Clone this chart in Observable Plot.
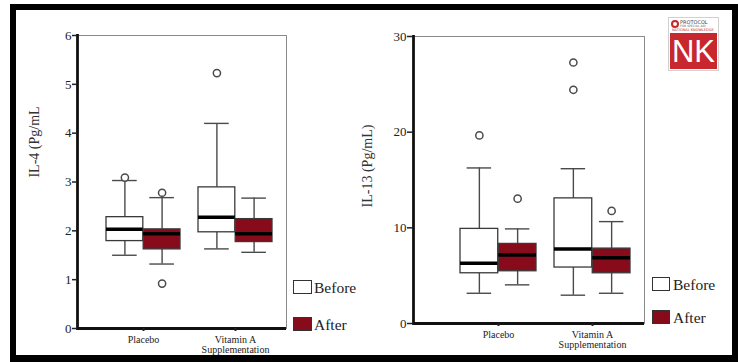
<!DOCTYPE html>
<html><head><meta charset="utf-8">
<script src="https://cdn.jsdelivr.net/npm/d3@7"></script>
<script src="https://cdn.jsdelivr.net/npm/@observablehq/plot@0.6"></script>
<style>
body{margin:0;background:#fff;}
#wrap{position:relative;width:740px;height:362px;overflow:hidden;background:#fff;font-family:"Liberation Serif","DejaVu Serif",serif;}
.abs{position:absolute;}
#border{position:absolute;left:10px;top:4px;width:728px;height:358px;box-sizing:border-box;border:6px solid #000;border-bottom-width:7px;z-index:10;pointer-events:none;}
.ylab{position:absolute;transform:translate(-50%,-50%) rotate(-90deg);white-space:nowrap;font-size:14px;color:#333;}
.leg-box{position:absolute;box-sizing:border-box;border:1.5px solid #333;}
.leg-text{position:absolute;font-size:15.5px;color:#222;line-height:1;}
svg{background:transparent !important;}
</style></head>
<body><div id="wrap">
<div id="left" class="abs" style="left:0;top:0"></div>
<div id="right" class="abs" style="left:340px;top:0"></div>
<div class="ylab" style="left:35px;top:142px">IL-4 (Pg/mL</div>
<div class="ylab" style="left:368px;top:166px">IL-13 (Pg/mL)</div>
<div class="leg-box" style="left:293px;top:280px;width:19px;height:14px;background:#fff"></div>
<div class="leg-text" style="left:314px;top:280px">Before</div>
<div class="leg-box" style="left:293px;top:317px;width:19px;height:14px;background:#870b1b"></div>
<div class="leg-text" style="left:314px;top:317px">After</div>
<div class="leg-box" style="left:652px;top:277px;width:18px;height:14px;background:#fff"></div>
<div class="leg-text" style="left:673px;top:277px">Before</div>
<div class="leg-box" style="left:652px;top:310px;width:18px;height:14px;background:#870b1b"></div>
<div class="leg-text" style="left:673px;top:310px">After</div>
<div class="abs" style="left:668px;top:17px;width:51px;height:54px;border:1px solid #d0d0d0;background:#fff;box-sizing:border-box;">
  <div class="abs" style="left:2px;top:2px;width:8px;height:8px;border:2px solid #c62828;border-radius:50%;box-sizing:border-box"></div>
  <div class="abs" style="left:11px;top:1px;font:5px 'DejaVu Sans';color:#444;white-space:nowrap">PROTOCOL</div>
  <div class="abs" style="left:11px;top:6px;font:3px 'DejaVu Sans';color:#666;white-space:nowrap">FOR SPECIAL AID</div>
  <div class="abs" style="left:3px;top:10px;font:3.5px 'DejaVu Sans';color:#c62828;white-space:nowrap">NATIONAL KNOWLEDGE</div>
  <div class="abs" style="left:1px;right:1px;top:15px;bottom:1px;background:#c8282d;color:#fff;font:31px 'Liberation Sans',Arial,sans-serif;text-align:center;line-height:37px">NK</div>
</div>
<div id="border"></div>
</div>
<script>
// Categories
const groups = ["Placebo", "Vitamin A Supplementation"];
const phases = ["Before", "After"];
// Box order: Placebo-Before, Placebo-After, VitA-Before, VitA-After
// IL-4 (Pg/mL)
const il4Low    = [1.50, 1.32, 1.63, 1.56];
const il4Q1     = [1.79, 1.62, 1.97, 1.77];
const il4Median = [2.03, 1.94, 2.28, 1.94];
const il4Q3     = [2.28, 2.03, 2.89, 2.24];
const il4High   = [3.03, 2.68, 4.20, 2.67];
const il4Outliers = [
  {group: "Placebo", phase: "Before", value: 3.09},
  {group: "Placebo", phase: "After", value: 2.78},
  {group: "Placebo", phase: "After", value: 0.92},
  {group: "Vitamin A Supplementation", phase: "Before", value: 5.23}
];
const il4Ticks = [0, 1, 2, 3, 4, 5, 6];
// IL-13 (Pg/mL)
const il13Low    = [3.16, 4.04, 2.96, 3.16];
const il13Q1     = [5.25, 5.46, 5.85, 5.25];
const il13Median = [6.30, 7.17, 7.80, 6.86];
const il13Q3     = [9.89, 8.32, 13.08, 7.83];
const il13High   = [16.26, 9.89, 16.18, 10.65];
const il13Outliers = [
  {group: "Placebo", phase: "Before", value: 19.66},
  {group: "Placebo", phase: "After", value: 13.05},
  {group: "Vitamin A Supplementation", phase: "Before", value: 27.28},
  {group: "Vitamin A Supplementation", phase: "Before", value: 24.43},
  {group: "Vitamin A Supplementation", phase: "After", value: 11.77}
];
const il13Ticks = [0, 10, 20, 30];
const groupLabels = {"Placebo": "Placebo", "Vitamin A Supplementation": "Vitamin A\nSupplementation"};

const fills = {Before: "#ffffff", After: "#870b1b"};

function panel(o) {
  const rows = [];
  groups.forEach((g, i) => phases.forEach((p, j) => {
    const k = i * 2 + j;
    rows.push({group: g, phase: p, low: o.low[k], q1: o.q1[k], median: o.median[k], q3: o.q3[k], high: o.high[k]});
  }));
  const [r0, r1] = o.xRange;
  const pi = o.paddingInner;
  const step = (r1 - r0) / (2 - pi);
  const bw = step * (1 - pi);
  const cap = 12.5;
  const marks = [Plot.frame({stroke: "#8a8a8a", strokeWidth: 1})];
  for (const p of phases) {
    const data = rows.filter(d => d.phase === p);
    const outs = o.outliers.filter(d => d.phase === p);
    const before = p === "Before";
    const dx = before ? -bw / 4 : bw / 4;
    const half = before ? {insetLeft: 0, insetRight: bw / 2} : {insetLeft: bw / 2, insetRight: 0};
    const capI = before ? {insetLeft: bw / 4 - cap, insetRight: 3 * bw / 4 - cap} : {insetLeft: 3 * bw / 4 - cap, insetRight: bw / 4 - cap};
    marks.push(
      Plot.ruleX(data, {x: "group", y1: "q3", y2: "high", dx, stroke: "#4a4a4a", strokeWidth: 1.4}),
      Plot.ruleX(data, {x: "group", y1: "low", y2: "q1", dx, stroke: "#4a4a4a", strokeWidth: 1.4}),
      Plot.tickY(data, {x: "group", y: "high", ...capI, stroke: "#4a4a4a", strokeWidth: 1.4}),
      Plot.tickY(data, {x: "group", y: "low", ...capI, stroke: "#4a4a4a", strokeWidth: 1.4}),
      Plot.barY(data, {x: "group", y1: "q1", y2: "q3", ...half, fill: fills[p], stroke: "#3a3a3a", strokeWidth: 1.3}),
      Plot.tickY(data, {x: "group", y: "median", ...half, stroke: "#000", strokeWidth: 3.5}),
      Plot.dot(outs, {x: "group", y: "value", dx, r: 3.6, fill: "#fff", stroke: "#4a4a4a", strokeWidth: 1.5})
    );
  }
  marks.push(
    Plot.ruleY([0], {stroke: "#111", strokeWidth: 2.8}),
    Plot.frame({anchor: "left", stroke: "#111", strokeWidth: 2.8}),
    Plot.axisY({ticks: o.ticks, tickFormat: d => String(d), tickSize: o.tickSize, tickPadding: 1, fontSize: 13, label: null, color: "#222", strokeWidth: 1.5}),
    Plot.axisX({tickSize: 3, tickPadding: 4, fontSize: 10, label: null, color: "#222", strokeWidth: 2, tickFormat: d => groupLabels[d]})
  );
  return Plot.plot({
    width: o.width, height: 362,
    marginLeft: o.marginLeft, marginRight: o.marginRight, marginTop: o.marginTop, marginBottom: o.marginBottom,
    style: {fontFamily: "Liberation Serif, DejaVu Serif, serif", background: "transparent", overflow: "visible"},
    x: {type: "band", domain: groups, range: o.xRange, paddingInner: pi, paddingOuter: 0, align: 0},
    y: {domain: o.yDomain},
    marks
  });
}

document.getElementById("left").append(panel({
  low: il4Low, q1: il4Q1, median: il4Median, q3: il4Q3, high: il4High, outliers: il4Outliers,
  ticks: il4Ticks, yDomain: [0, 6], tickSize: 5,
  width: 370, marginLeft: 77, marginRight: 84, marginTop: 35, marginBottom: 34,
  xRange: [105.7, 272.5], paddingInner: 0.195
}));
document.getElementById("right").append(panel({
  low: il13Low, q1: il13Q1, median: il13Median, q3: il13Q3, high: il13High, outliers: il13Outliers,
  ticks: il13Ticks, yDomain: [0, 30], tickSize: 6,
  width: 400, marginLeft: 73, marginRight: 96, marginTop: 36, marginBottom: 39,
  xRange: [120, 291], paddingInner: 0.19
}));
</script>
</body></html>
